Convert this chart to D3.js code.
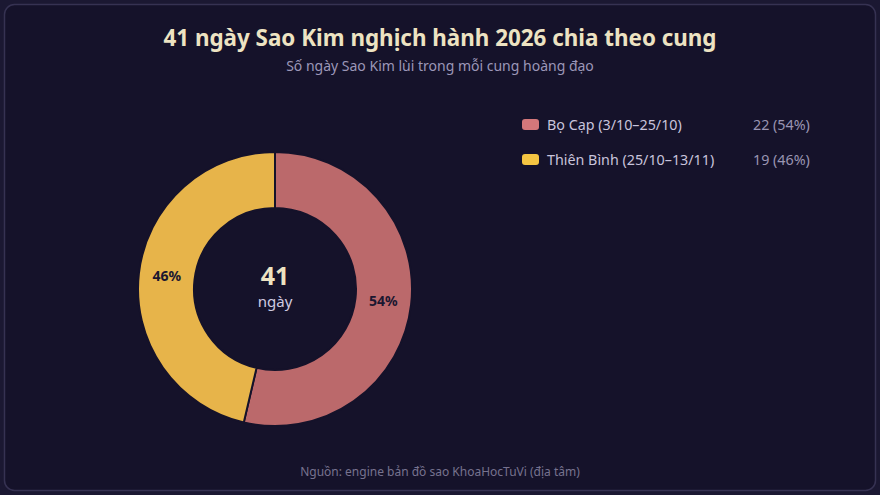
<!DOCTYPE html>
<html>
<head>
<meta charset="utf-8">
<script src="https://cdn.jsdelivr.net/npm/d3@7"></script>
<style>
  html, body { margin: 0; padding: 0; background: #1b1832; }
  svg { display: block; font-family: "Noto Sans", "Open Sans", sans-serif; }
</style>
</head>
<body>
<div id="chart"></div>
<script>
var w = 880;
var h = 495;

var title = "41 ngày Sao Kim nghịch hành 2026 chia theo cung";
var subtitle = "Số ngày Sao Kim lùi trong mỗi cung hoàng đạo";
var source = "Nguồn: engine bản đồ sao KhoaHocTuVi (địa tâm)";

var signs = ["Bọ Cạp (3/10–25/10)", "Thiên Bình (25/10–13/11)"];
var days = [22, 19];
var colors = ["#d4777a", "#f5c542"];
var sliceColors = ["#bb696b", "#e7b44a"];
var totalDays = d3.sum(days);

var cx = 275;
var cy = 289;
var outerR = 137;
var innerR = 81;

var svg = d3.select("#chart").append("svg").attr("width", w).attr("height", h);

svg
  .append("rect")
  .attr("x", 4.5)
  .attr("y", 4.5)
  .attr("width", w - 9)
  .attr("height", h - 9)
  .attr("rx", 10)
  .attr("fill", "#15122a")
  .attr("stroke", "#363252")
  .attr("stroke-width", 1.5);

svg
  .append("text")
  .attr("x", w / 2)
  .attr("y", 46)
  .attr("text-anchor", "middle")
  .attr("font-size", "22.4px")
  .attr("font-weight", "bold")
  .attr("fill", "#ede3c2")
  .text(title);

svg
  .append("text")
  .attr("x", w / 2)
  .attr("y", 71)
  .attr("text-anchor", "middle")
  .attr("font-size", "14px")
  .attr("fill", "#9c97b8")
  .text(subtitle);

var pie = d3.pie().sort(null).value(function (d) {
  return d;
});
var arc = d3.arc().innerRadius(innerR).outerRadius(outerR);
var labelArc = d3
  .arc()
  .innerRadius((innerR + outerR) / 2)
  .outerRadius((innerR + outerR) / 2);

var g = svg.append("g").attr("transform", "translate(" + cx + "," + cy + ")");

g.selectAll("path")
  .data(pie(days))
  .enter()
  .append("path")
  .attr("d", arc)
  .attr("fill", function (d, i) {
    return sliceColors[i];
  })
  .attr("stroke", "#15122a")
  .attr("stroke-width", 2);

g.selectAll(".pct")
  .data(pie(days))
  .enter()
  .append("text")
  .attr("class", "pct")
  .attr("transform", function (d) {
    return "translate(" + labelArc.centroid(d) + ")";
  })
  .attr("dy", "0.35em")
  .attr("text-anchor", "middle")
  .attr("font-size", "14px")
  .attr("font-weight", "bold")
  .attr("fill", "#1b1730")
  .text(function (d) {
    return Math.round((d.value / totalDays) * 100) + "%";
  });

g.append("text")
  .attr("y", -4)
  .attr("text-anchor", "middle")
  .attr("font-size", "25px")
  .attr("font-weight", "bold")
  .attr("fill", "#ede3c2")
  .text(totalDays);

g.append("text")
  .attr("y", 18)
  .attr("text-anchor", "middle")
  .attr("font-size", "15px")
  .attr("fill", "#cfcbe0")
  .text("ngày");

var legend = svg
  .selectAll(".legend")
  .data(signs)
  .enter()
  .append("g")
  .attr("class", "legend")
  .attr("transform", function (d, i) {
    return "translate(522," + (125 + i * 35) + ")";
  });

legend
  .append("rect")
  .attr("x", 0)
  .attr("y", -6)
  .attr("width", 17)
  .attr("height", 11)
  .attr("rx", 3)
  .attr("fill", function (d, i) {
    return colors[i];
  });

legend
  .append("text")
  .attr("x", 25)
  .attr("dy", "0.35em")
  .attr("font-size", "14.3px")
  .attr("fill", "#c9c4dc")
  .text(function (d) {
    return d;
  });

legend
  .append("text")
  .attr("x", 231)
  .attr("dy", "0.35em")
  .attr("font-size", "14.3px")
  .attr("fill", "#9a95b2")
  .text(function (d, i) {
    return days[i] + " (" + Math.round((days[i] / totalDays) * 100) + "%)";
  });

svg
  .append("text")
  .attr("x", w / 2)
  .attr("y", 476)
  .attr("text-anchor", "middle")
  .attr("font-size", "12px")
  .attr("fill", "#77728f")
  .text(source);
</script>
</body>
</html>
